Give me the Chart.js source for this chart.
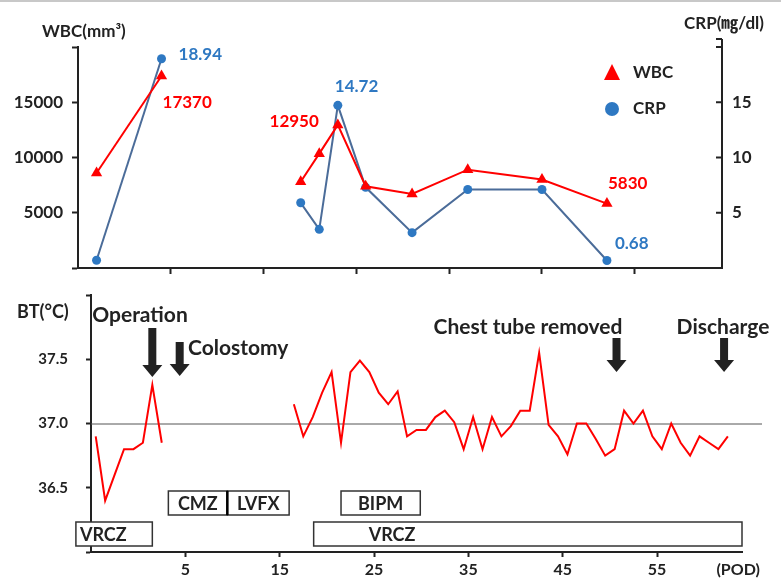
<!DOCTYPE html>
<html>
<head>
<meta charset="utf-8">
<script src="https://cdn.jsdelivr.net/npm/chart.js@4.4.1/dist/chart.umd.min.js"></script>
<style>
  html, body { margin: 0; padding: 0; background: #fff; }
  body { width: 781px; height: 582px; position: relative; overflow: hidden; }
  #topLine { position: absolute; left: 0; top: 0; width: 781px; height: 2px; background: #c8c8c8; }
  #labChart { position: absolute; left: 0; top: 0; }
  #btChart { position: absolute; left: 0; top: 285px; }
</style>
</head>
<body>
<div id="topLine"></div>
<canvas id="labChart" width="781" height="285"></canvas>
<canvas id="btChart" width="781" height="297"></canvas>
<script>
const FONT = "Lato, 'Noto Sans CJK JP', sans-serif";
const RED = "#ff0000";
const BLUE = "#2e78c2";
const CRP_LINE = "#4b6c99";
const INK = "#222";

// lab values, top panel
const labDays = [-3, 4, 19, 21, 23, 26, 31, 37, 45, 52];
const wbc = [8600, 17370, 7800, 10350, 12950, 7400, 6700, 8900, 8000, 5830];
const crp = [0.7, 18.94, 5.9, 3.5, 14.72, 7.3, 3.2, 7.1, 7.1, 0.68];

// body temperature, one reading a day
const btPreStart = -4.5;
const btPre = [36.9, 36.4, 36.6, 36.8, 36.8, 36.85, 37.3, 36.85];
const btPostStart = 16.5;
const btPost = [37.15, 36.9, 37.05, 37.24, 37.4, 36.85, 37.4, 37.49, 37.4, 37.24,
                37.15, 37.25, 36.9, 36.95, 36.95, 37.05, 37.1, 37.01, 36.8, 37.05,
                36.8, 37.05, 36.9, 36.98, 37.1, 37.1, 37.55, 36.99, 36.9, 36.76,
                37.0, 37.0, 36.88, 36.75, 36.8, 37.1, 37.0, 37.1, 36.9, 36.8,
                37.0, 36.85, 36.75, 36.9, 36.85, 36.8, 36.9];

// ticks
const podTicks = [5, 15, 25, 35, 45, 55, 63.6];
const podLabels = ["5", "15", "25", "35", "45", "55", "(POD)"];
const wbcTicks = [0, 5000, 10000, 15000, 20000];
const crpTicks = [0, 5, 10, 15, 20];
const btTicks = [36, 36.5, 37, 37.5, 38];

// events and drugs
const events = ["Operation", "Colostomy", "Chest tube removed", "Discharge"];
const eventDays = [1.5, 4.4, 50.7, 62.1];
const drugs = ["VRCZ", "CMZ", "LVFX", "BIPM", "VRCZ"];
const drugStart = [-6.6, 3.2, 9.45, 21.5, 18.6];
const drugEnd = [1.5, 9.45, 16.0, 29.9, 64];
const drugRow = [1, 0, 0, 0, 1];

const pts = (xs, ys) => ys.map((y, i) => ({ x: xs[i], y: y }));
const daily = (start, ys) => ys.map((y, i) => ({ x: start + i, y: y }));
const breakGaps = { borderColor: c => (c.p1.parsed.x - c.p0.parsed.x > 10 ? "rgba(0,0,0,0)" : undefined) };
const noEndPad = s => { s.paddingTop = 0; s.paddingBottom = 0; };

// ---------- top panel ----------
const labPlugin = {
  id: "labExtras",
  afterDraw(chart) {
    const ctx = chart.ctx;
    const yR = chart.scales.yR;
    ctx.save();
    // right axis ticks point inward
    ctx.strokeStyle = INK; ctx.lineWidth = 2;
    crpTicks.forEach(v => {
      const y = yR.getPixelForValue(v);
      ctx.beginPath(); ctx.moveTo(yR.left - 6, y); ctx.lineTo(yR.left, y); ctx.stroke();
    });
    ctx.beginPath(); ctx.moveTo(yR.left, chart.chartArea.top - 8); ctx.lineTo(yR.left, chart.chartArea.top); ctx.stroke();
    ctx.beginPath(); ctx.moveTo(yR.left - 6, chart.chartArea.top - 8); ctx.lineTo(yR.left, chart.chartArea.top - 8); ctx.stroke();

    // axis titles
    ctx.fillStyle = INK; ctx.textBaseline = "middle";
    ctx.font = "bold 17px " + FONT;
    ctx.textAlign = "left"; ctx.fillText("WBC(mm³)", 42, 32);
    ctx.textAlign = "right"; ctx.fillText("CRP(㎎/dl)", 764, 24);

    // legend
    ctx.fillStyle = RED;
    ctx.beginPath(); ctx.moveTo(612, 64); ctx.lineTo(620, 80); ctx.lineTo(604, 80); ctx.closePath(); ctx.fill();
    ctx.fillStyle = BLUE;
    ctx.beginPath(); ctx.arc(612, 109, 7, 0, Math.PI * 2); ctx.fill();
    ctx.fillStyle = INK; ctx.textAlign = "left";
    ctx.fillText("WBC", 633, 73);
    ctx.fillText("CRP", 633, 109);

    // values written by the points
    const place = [
      { ds: 0, i: 1, dx: 1, dy: 26, al: "left", txt: v => String(v), col: RED },
      { ds: 0, i: 4, dx: -19, dy: -3, al: "right", txt: v => String(v), col: RED },
      { ds: 0, i: 9, dx: 1, dy: -20, al: "left", txt: v => String(v), col: RED },
      { ds: 1, i: 1, dx: 17, dy: -4, al: "left", txt: v => v.toFixed(2), col: BLUE },
      { ds: 1, i: 4, dx: -3, dy: -19, al: "left", txt: v => v.toFixed(2), col: BLUE },
      { ds: 1, i: 9, dx: 8, dy: -17, al: "left", txt: v => v.toFixed(2), col: BLUE }
    ];
    ctx.font = "bold 17px " + FONT;
    place.forEach(p => {
      const el = chart.getDatasetMeta(p.ds).data[p.i];
      const v = chart.data.datasets[p.ds].data[p.i].y;
      ctx.fillStyle = p.col; ctx.textAlign = p.al;
      ctx.fillText(p.txt(v), el.x + p.dx, el.y + p.dy);
    });
    ctx.restore();
  }
};

new Chart(document.getElementById("labChart"), {
  type: "line",
  data: {
    datasets: [{
      label: "WBC",
      data: pts(labDays, wbc),
      yAxisID: "yL",
      borderColor: RED, backgroundColor: RED, borderWidth: 2,
      pointStyle: "triangle", pointRadius: 6.5, pointBorderWidth: 0,
      segment: breakGaps
    }, {
      label: "CRP",
      data: pts(labDays, crp),
      yAxisID: "yR",
      borderColor: CRP_LINE, backgroundColor: BLUE, borderWidth: 2,
      pointStyle: "circle", pointRadius: 4.5, pointBorderWidth: 0,
      segment: breakGaps
    }]
  },
  options: {
    responsive: false,
    animation: false,
    layout: { padding: { top: 47 } },
    plugins: { legend: { display: false }, tooltip: { enabled: false } },
    scales: {
      x: {
        type: "linear", min: -5, max: 64.4,
        afterBuildTicks: s => { s.ticks = podTicks.slice(0, 6).map(v => ({ value: v })); },
        afterFit: s => { s.height = 17; },
        ticks: { display: false },
        grid: { drawOnChartArea: false, drawTicks: true, tickLength: 6, tickWidth: 2, tickColor: INK },
        border: { color: INK, width: 2 }
      },
      yL: {
        position: "left", min: 0, max: 20000,
        afterBuildTicks: s => { s.ticks = wbcTicks.map(v => ({ value: v })); },
        afterFit: s => { s.width = 78; noEndPad(s); },
        ticks: {
          padding: 9, color: INK, font: { family: FONT, size: 17, weight: "bold" },
          callback: v => (v > 0 && v < 20000 ? String(v) : "")
        },
        grid: { drawOnChartArea: false, tickLength: 6, tickWidth: 2, tickColor: INK },
        border: { color: INK, width: 2 }
      },
      yR: {
        position: "right", min: 0, max: 20,
        afterBuildTicks: s => { s.ticks = crpTicks.map(v => ({ value: v })); },
        afterFit: s => { s.width = 59; noEndPad(s); },
        ticks: {
          padding: 10, color: INK, font: { family: FONT, size: 17, weight: "bold" },
          callback: v => (v > 0 && v < 20 ? String(v) : "")
        },
        grid: { drawOnChartArea: false, drawTicks: false },
        border: { color: INK, width: 2 }
      }
    }
  },
  plugins: [labPlugin]
});

// ---------- bottom panel ----------
function downArrow(ctx, x, top, bottom) {
  const head = 12;
  ctx.beginPath();
  ctx.moveTo(x - 4, top); ctx.lineTo(x + 4, top);
  ctx.lineTo(x + 4, bottom - head); ctx.lineTo(x + 10, bottom - head);
  ctx.lineTo(x, bottom); ctx.lineTo(x - 10, bottom - head);
  ctx.lineTo(x - 4, bottom - head); ctx.closePath();
  ctx.fill();
}

const btPlugin = {
  id: "btExtras",
  beforeDatasetsDraw(chart) {
    const ctx = chart.ctx;
    const y = chart.scales.y.getPixelForValue(37);
    ctx.save();
    ctx.strokeStyle = "#555"; ctx.lineWidth = 1;
    ctx.beginPath(); ctx.moveTo(chart.chartArea.left, y + 0.5); ctx.lineTo(762, y + 0.5); ctx.stroke();
    ctx.restore();
  },
  afterDraw(chart) {
    const ctx = chart.ctx;
    const xs = chart.scales.x;
    ctx.save();
    ctx.fillStyle = INK; ctx.textBaseline = "middle";

    ctx.font = "bold 18px " + FONT;
    ctx.textAlign = "left";
    ctx.fillText("BT(°C)", 17, 27);

    // event arrows and their captions
    const layout = [
      { tx: 140, ty: 30, al: "center", top: 43, bot: 92 },
      { tx: 188, ty: 63, al: "left", top: 57, bot: 91 },
      { tx: 528, ty: 42, al: "center", top: 53, bot: 87 },
      { tx: 723, ty: 42, al: "center", top: 53, bot: 87 }
    ];
    ctx.font = "bold 21px " + FONT;
    events.forEach((name, i) => {
      const L = layout[i];
      ctx.textAlign = L.al;
      ctx.fillText(name, L.tx, L.ty);
      downArrow(ctx, xs.getPixelForValue(eventDays[i]), L.top, L.bot);
    });

    // drug bars
    const rowTop = [206, 237];
    const rowH = 24;
    ctx.font = "bold 18px " + FONT;
    drugs.forEach((name, i) => {
      const x0 = xs.getPixelForValue(drugStart[i]);
      const x1 = xs.getPixelForValue(drugEnd[i]);
      const y0 = rowTop[drugRow[i]];
      ctx.fillStyle = "#fff";
      ctx.fillRect(x0, y0, x1 - x0, rowH);
      ctx.strokeStyle = "#333"; ctx.lineWidth = 1.5;
      ctx.strokeRect(x0, y0, x1 - x0, rowH);
      ctx.fillStyle = INK;
      if (drugRow[i] === 1) {
        ctx.textAlign = "left";
        ctx.fillText(name, x0 + (i === 0 ? 4 : 55), y0 + rowH / 2 + 1);
      } else {
        ctx.textAlign = "center";
        ctx.fillText(name, (x0 + x1) / 2, y0 + rowH / 2 + 1);
      }
    });
    // thicker divider between CMZ and LVFX
    ctx.strokeStyle = "#000"; ctx.lineWidth = 2.5;
    const xd = xs.getPixelForValue(drugEnd[1]);
    ctx.beginPath(); ctx.moveTo(xd, rowTop[0]); ctx.lineTo(xd, rowTop[0] + rowH); ctx.stroke();
    ctx.restore();
  }
};

new Chart(document.getElementById("btChart"), {
  type: "line",
  data: {
    datasets: [{
      label: "BT",
      data: daily(btPreStart, btPre).concat(daily(btPostStart, btPost)),
      borderColor: RED, borderWidth: 2, pointRadius: 0,
      segment: breakGaps
    }]
  },
  options: {
    responsive: false,
    animation: false,
    layout: { padding: { top: 10, right: 39 } },
    plugins: { legend: { display: false }, tooltip: { enabled: false } },
    scales: {
      x: {
        type: "linear", min: -5, max: 64,
        afterBuildTicks: s => { s.ticks = podTicks.map(v => ({ value: v })); },
        afterFit: s => { s.height = 30; },
        ticks: {
          autoSkip: false, maxRotation: 0, padding: 3, color: INK,
          font: { family: FONT, size: 16, weight: "bold" },
          callback: (v, i) => podLabels[i]
        },
        grid: {
          drawOnChartArea: false, tickLength: 5, tickWidth: 2,
          tickColor: c => (c.index === podTicks.length - 1 ? "rgba(0,0,0,0)" : INK)
        },
        border: { color: INK, width: 2 }
      },
      y: {
        min: 36, max: 38,
        afterBuildTicks: s => { s.ticks = btTicks.map(v => ({ value: v })); },
        afterFit: s => { s.width = 91; noEndPad(s); },
        ticks: {
          padding: 18, color: INK, font: { family: FONT, size: 15, weight: "bold" },
          callback: v => (v > 36 && v < 38 ? v.toFixed(1) : "")
        },
        grid: { drawOnChartArea: false, tickLength: 5, tickWidth: 2, tickColor: INK },
        border: { color: INK, width: 2 }
      }
    }
  },
  plugins: [btPlugin]
});
</script>
</body>
</html>
